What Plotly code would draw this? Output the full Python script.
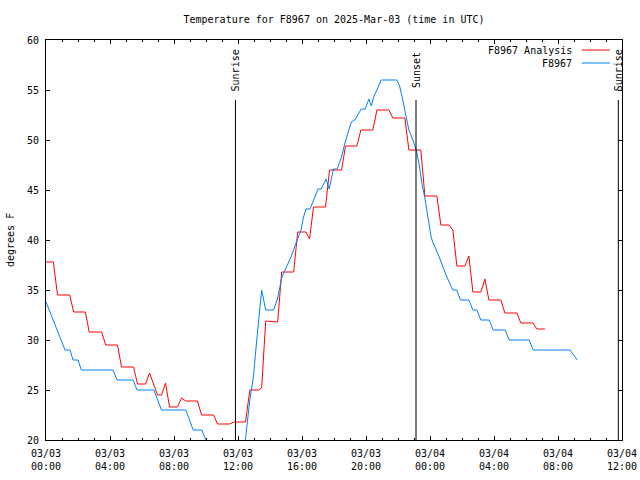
import pandas as pd
import plotly.graph_objects as go

BASE = pd.Timestamp("2025-03-03 00:00")

# Analysis series: hours after 03/03 00:00 UTC, temperature in F
analysis_hours = [0, 0.46, 0.72, 1.48, 1.73, 2.46, 2.70, 3.48, 3.73, 4.47, 4.72, 5.47, 5.72, 6.22,
                  6.47, 6.97, 7.22, 7.47, 7.72, 8.22, 8.47, 8.72, 9.47, 9.72, 10.47, 10.72, 11.47,
                  11.72, 12.47, 12.74, 13.30, 13.48, 13.73, 14.48, 14.73, 15.48, 15.73, 16.25,
                  16.47, 16.72, 17.47, 17.72, 18.47, 18.72, 19.43, 19.68, 20.43, 20.68, 21.43,
                  21.68, 22.43, 22.68, 23.43, 23.68, 24.43, 24.68, 25.18, 25.43, 25.68, 26.18,
                  26.43, 26.68, 27.18, 27.43, 27.68, 28.43, 28.68, 29.43, 29.68, 30.43, 30.68, 31.18]
analysis_temp = [37.8, 37.8, 34.5, 34.5, 32.8, 32.8, 30.8, 30.8, 29.5, 29.5, 27.3, 27.3, 25.6, 25.6,
                 26.7, 24.5, 24.5, 25.7, 23.3, 23.3, 24.2, 23.9, 23.9, 22.5, 22.5, 21.6, 21.6,
                 21.8, 21.8, 25.0, 25.0, 25.2, 31.9, 31.8, 36.8, 36.8, 40.8, 40.8,
                 40.1, 43.3, 43.3, 47.0, 47.0, 49.4, 49.4, 51.0, 51.0, 53.0, 53.0,
                 52.2, 52.2, 49.0, 49.0, 44.4, 44.4, 41.5, 41.5, 41.0, 37.4, 37.4,
                 38.4, 34.8, 34.8, 36.1, 34.0, 34.0, 32.7, 32.7, 31.7, 31.7, 31.1, 31.1]

# Observed series
obs_hours = [0, 1.19, 1.5, 1.69, 2.0, 2.21, 4.19, 4.44, 5.44, 5.69, 6.74, 7.22, 8.74, 9.2, 9.74,
             10.0, 10.25, 12.0, 12.46, 12.74, 12.97, 13.13, 13.26, 13.38, 13.48, 13.73, 14.23,
             14.48, 14.73, 15.0, 15.31, 15.63, 15.94, 16.08, 16.25, 16.5, 16.72, 17.0, 17.2,
             17.5, 17.7, 17.96, 18.2, 18.45, 18.7, 19.08, 19.3, 19.7, 19.95, 20.18, 20.33, 20.5,
             20.68, 20.95, 21.93, 22.1, 22.27, 22.47, 22.68, 22.93, 23.14, 23.35, 23.52, 23.67,
             23.86, 24.07, 24.17, 24.58, 25.0, 25.42, 25.67, 25.9, 26.43, 26.68, 26.93, 27.18,
             27.7, 27.95, 28.7, 28.95, 30.2, 30.45, 32.75, 33.2]
obs_temp = [33.8, 29.0, 29.0, 28.0, 28.0, 27.0, 27.0, 26.0, 26.0, 25.0, 25.0, 23.0, 23.0, 21.0, 21.0,
            20.0, 19.0, 19.0, 20.0, 24.0, 26.4, 29.3, 31.7, 33.8, 35.0, 33.0, 33.0,
            34.2, 36.2, 37.2, 38.3, 39.7, 41.0, 42.2, 43.1, 43.1, 44.0, 45.1, 45.1,
            46.1, 45.1, 47.1, 47.1, 48.2, 49.8, 51.8, 52.0, 53.1, 53.1, 54.1, 53.4, 54.4,
            55.0, 56.0, 56.0, 55.4, 54.2, 52.7, 51.0, 50.0, 49.0, 47.3, 45.4, 44.3,
            42.3, 40.3, 39.8, 38.3, 36.5, 35.0, 35.0, 34.0, 34.0, 33.0, 33.0, 32.0,
            32.0, 31.0, 31.0, 30.0, 30.0, 29.0, 29.0, 28.0]

# Sun events (hours after 03/03 00:00 UTC)
sun_labels = ["Sunrise", "Sunset", "Sunrise"]
sun_hours = [11.84, 23.125, 35.77]

series_names = ["F8967 Analysis", "F8967"]
series_colors = ["#ff0000", "#0080ff"]

FONT = "DejaVu Sans Mono"
W, H = 640, 480


def to_time(hours):
    return [BASE + pd.Timedelta(hours=h) for h in hours]


fig = go.Figure()
fig.add_trace(go.Scatter(x=to_time(analysis_hours), y=analysis_temp, mode="lines",
                         name=series_names[0], line=dict(color=series_colors[0], width=1)))
fig.add_trace(go.Scatter(x=to_time(obs_hours), y=obs_temp, mode="lines",
                         name=series_names[1], line=dict(color=series_colors[1], width=1)))

for lbl, h in zip(sun_labels, sun_hours):
    t = BASE + pd.Timedelta(hours=h)
    fig.add_shape(type="line", xref="x", yref="y", x0=t, x1=t, y0=20, y1=54,
                  line=dict(color="black", width=1))
    fig.add_annotation(x=t, y=57, xref="x", yref="y", text=lbl, textangle=-90,
                       showarrow=False, xanchor="center", yanchor="middle",
                       font=dict(family=FONT, size=10, color="black"))

# legend drawn gnuplot-style (text right, sample line at the right)
legend_y = [0.975, 0.9425]
for name, color, ly in zip(series_names, series_colors, legend_y):
    fig.add_annotation(x=0.9167, y=ly, xref="paper", yref="paper", text=name,
                       showarrow=False, xanchor="right", yanchor="middle",
                       font=dict(family=FONT, size=10, color="black"))
    fig.add_shape(type="line", xref="paper", yref="paper", x0=0.930, x1=0.979, y0=ly, y1=ly,
                  line=dict(color=color, width=1))

fig.add_annotation(x=-0.0625, y=0.5, xref="paper", yref="paper", text="degrees F",
                   textangle=-90, showarrow=False, xanchor="center", yanchor="middle",
                   font=dict(family=FONT, size=10, color="black"))

fig.update_layout(
    width=W, height=H,
    margin=dict(l=46, r=18, t=40, b=40),
    paper_bgcolor="white", plot_bgcolor="white",
    showlegend=False,
    font=dict(family=FONT, size=10, color="black"),
    title=dict(text="Temperature for F8967 on 2025-Mar-03 (time in UTC)",
               x=0.5, xref="paper", y=1 - 19 / H, yref="container",
               xanchor="center", yanchor="middle",
               font=dict(family=FONT, size=10, color="black")),
)
fig.update_xaxes(
    type="date",
    range=[BASE, BASE + pd.Timedelta(hours=36)],
    tick0=BASE, dtick=4 * 3600 * 1000,
    tickformat="%m/%d<br>%H:%M",
    ticks="inside", ticklen=4, tickcolor="black", tickwidth=1,
    minor=dict(ticks="inside", ticklen=2, dtick=3600 * 1000, tickcolor="black"),
    showline=True, linecolor="black", linewidth=1, mirror="ticks",
    showgrid=False, zeroline=False, ticklabelstandoff=4, automargin=False,
)
fig.update_yaxes(
    range=[20, 60], dtick=5, tick0=0,
    ticks="inside", ticklen=4, tickcolor="black", tickwidth=1,
    showline=True, linecolor="black", linewidth=1, mirror="ticks",
    showgrid=False, zeroline=False, ticklabelstandoff=4, automargin=False,
)

fig.write_html("out.html", config={"displayModeBar": False},
               post_script="document.body.style.margin='0';")
